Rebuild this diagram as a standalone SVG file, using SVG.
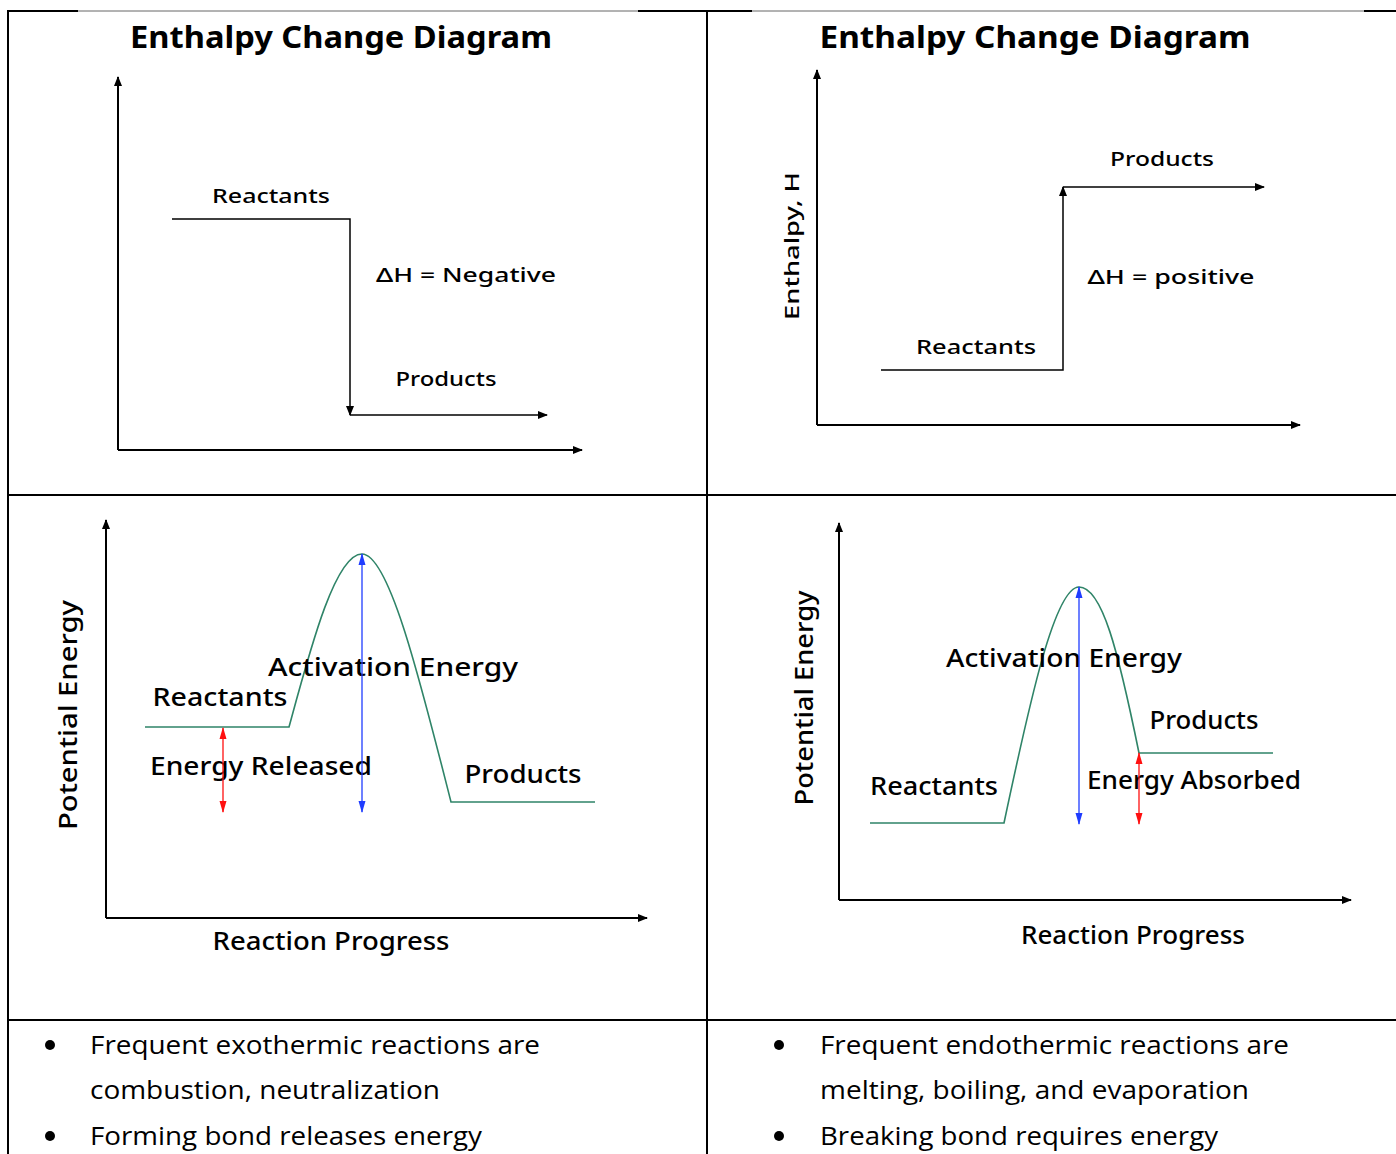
<svg xmlns="http://www.w3.org/2000/svg" width="1396" height="1154" viewBox="0 0 1396 1154">
  <style>
    .grid { stroke: #000; stroke-width: 2; fill: none; }
    .gridthin { stroke: #666; stroke-width: 1; fill: none; }
    .axis { stroke: #000; stroke-width: 2; fill: none; }
    .level { stroke: #000; stroke-width: 1.5; fill: none; }
    .curve { stroke: #2f8468; stroke-width: 1.6; fill: none; }
    .blue { stroke: #1f3cff; stroke-width: 1.3; fill: none; }
    .red { stroke: #ff1010; stroke-width: 1.3; fill: none; }
    .hand { font-family: "Noto Sans", "DejaVu Sans", sans-serif; fill: #000; }
    .title { font-size: 30px; font-weight: 700; }
    .lbl { font-size: 20px; font-weight: 500; }
    .lbl2 { font-size: 25px; font-weight: 500; }
    .note { font-family: "Open Sans", "Liberation Sans", sans-serif; font-size: 26px; fill: #000; }
  </style>
  <defs>
    <marker id="ahBlack" markerUnits="userSpaceOnUse" markerWidth="10" markerHeight="8" refX="9" refY="4" orient="auto-start-reverse">
      <path d="M0,0 L10,4 L0,8 z" fill="#000"/>
    </marker>
    <marker id="ahBlue" markerUnits="userSpaceOnUse" markerWidth="12" markerHeight="8" refX="11" refY="4" orient="auto-start-reverse">
      <path d="M0,0.5 L12,4 L0,7.5 z" fill="#1f3cff"/>
    </marker>
    <marker id="ahRed" markerUnits="userSpaceOnUse" markerWidth="12" markerHeight="8" refX="11" refY="4" orient="auto-start-reverse">
      <path d="M0,0.5 L12,4 L0,7.5 z" fill="#ff1010"/>
    </marker>
  </defs>

  <rect width="1396" height="1154" fill="#fff"/>

  <!-- table rules -->
  <g id="table">
    <line class="grid" x1="8" y1="11" x2="78" y2="11"/>
    <line class="gridthin" x1="78" y1="11" x2="638" y2="11"/>
    <line class="grid" x1="638" y1="11" x2="752" y2="11"/>
    <line class="gridthin" x1="752" y1="11" x2="1364" y2="11"/>
    <line class="grid" x1="1364" y1="11" x2="1396" y2="11"/>
    <line class="grid" x1="8" y1="10" x2="8" y2="1154"/>
    <line class="grid" x1="707" y1="10" x2="707" y2="1154"/>
    <line class="grid" x1="8" y1="495" x2="1396" y2="495"/>
    <line class="grid" x1="8" y1="1020" x2="1396" y2="1020"/>
  </g>

  <!-- exothermic enthalpy diagram -->
  <g id="exo-enthalpy">
    <text class="hand title" x="341" y="48" text-anchor="middle" textLength="422" lengthAdjust="spacingAndGlyphs">Enthalpy Change Diagram</text>
    <text class="hand lbl" x="271" y="203" text-anchor="middle" textLength="118" lengthAdjust="spacingAndGlyphs">Reactants</text>
    <text class="hand lbl" x="466" y="282" text-anchor="middle" textLength="180" lengthAdjust="spacingAndGlyphs">ΔH = Negative</text>
    <text class="hand lbl" x="446" y="386" text-anchor="middle" textLength="101" lengthAdjust="spacingAndGlyphs">Products</text>
  </g>

  <!-- endothermic enthalpy diagram -->
  <g id="endo-enthalpy">
    <text class="hand title" x="1035" y="48" text-anchor="middle" textLength="431" lengthAdjust="spacingAndGlyphs">Enthalpy Change Diagram</text>
    <text class="hand lbl" transform="translate(799,246) rotate(-90)" text-anchor="middle" textLength="148" lengthAdjust="spacingAndGlyphs">Enthalpy, H</text>
    <text class="hand lbl" x="1162" y="166" text-anchor="middle" textLength="104" lengthAdjust="spacingAndGlyphs">Products</text>
    <text class="hand lbl" x="1171" y="284" text-anchor="middle" textLength="167" lengthAdjust="spacingAndGlyphs">ΔH = positive</text>
    <text class="hand lbl" x="976" y="354" text-anchor="middle" textLength="120" lengthAdjust="spacingAndGlyphs">Reactants</text>
  </g>

  <!-- exothermic energy profile -->
  <g id="exo-profile">
    <text class="hand lbl2" transform="translate(77,715) rotate(-90)" text-anchor="middle" textLength="230" lengthAdjust="spacingAndGlyphs">Potential Energy</text>
    <path class="curve" d="M145,727 L289,727 C310,650 335,554 362,554 C389,554 420,680 451,802 L595,802"/>
    <text class="hand lbl2" x="393" y="676" text-anchor="middle" textLength="250" lengthAdjust="spacingAndGlyphs">Activation Energy</text>
    <text class="hand lbl2" x="220" y="706" text-anchor="middle" textLength="135" lengthAdjust="spacingAndGlyphs">Reactants</text>
    <text class="hand lbl2" x="261" y="775" text-anchor="middle" textLength="222" lengthAdjust="spacingAndGlyphs">Energy Released</text>
    <text class="hand lbl2" x="523" y="783" text-anchor="middle" textLength="117" lengthAdjust="spacingAndGlyphs">Products</text>
    <text class="hand lbl2" x="331" y="950" text-anchor="middle" textLength="237" lengthAdjust="spacingAndGlyphs">Reaction Progress</text>
  </g>

  <!-- endothermic energy profile -->
  <g id="endo-profile">
    <text class="hand lbl2" transform="translate(813,698) rotate(-90)" text-anchor="middle" textLength="215" lengthAdjust="spacingAndGlyphs">Potential Energy</text>
    <path class="curve" d="M870,823 L1004,823 C1030,700 1055,587 1079,587 C1102,587 1118,650 1139,753 L1273,753"/>
    <text class="hand lbl2" x="1064" y="667" text-anchor="middle" textLength="236" lengthAdjust="spacingAndGlyphs">Activation Energy</text>
    <text class="hand lbl2" x="1204" y="729" text-anchor="middle" textLength="109" lengthAdjust="spacingAndGlyphs">Products</text>
    <text class="hand lbl2" x="934" y="795" text-anchor="middle" textLength="128" lengthAdjust="spacingAndGlyphs">Reactants</text>
    <text class="hand lbl2" x="1194" y="789" text-anchor="middle" textLength="214" lengthAdjust="spacingAndGlyphs">Energy Absorbed</text>
    <text class="hand lbl2" x="1133" y="944" text-anchor="middle" textLength="224" lengthAdjust="spacingAndGlyphs">Reaction Progress</text>
  </g>

  <!-- axes, level steps and energy arrows -->
  <g id="connectors">
    <line class="axis" x1="118" y1="450" x2="118" y2="77" marker-end="url(#ahBlack)"/>
    <line class="axis" x1="118" y1="450" x2="582" y2="450" marker-end="url(#ahBlack)"/>
    <polyline class="level" points="172,219 350,219 350,415" marker-end="url(#ahBlack)"/>
    <line class="level" x1="350" y1="415" x2="547" y2="415" marker-end="url(#ahBlack)"/>

    <line class="axis" x1="817" y1="425" x2="817" y2="70" marker-end="url(#ahBlack)"/>
    <line class="axis" x1="817" y1="425" x2="1300" y2="425" marker-end="url(#ahBlack)"/>
    <polyline class="level" points="881,370 1063,370 1063,187" marker-end="url(#ahBlack)"/>
    <line class="level" x1="1063" y1="187" x2="1264" y2="187" marker-end="url(#ahBlack)"/>

    <line class="axis" x1="106" y1="918" x2="106" y2="520" marker-end="url(#ahBlack)"/>
    <line class="axis" x1="106" y1="918" x2="647" y2="918" marker-end="url(#ahBlack)"/>
    <line class="blue" x1="362" y1="554" x2="362" y2="812" marker-start="url(#ahBlue)" marker-end="url(#ahBlue)"/>
    <line class="red" x1="223" y1="728" x2="223" y2="812" marker-start="url(#ahRed)" marker-end="url(#ahRed)"/>

    <line class="axis" x1="839" y1="900" x2="839" y2="523" marker-end="url(#ahBlack)"/>
    <line class="axis" x1="839" y1="900" x2="1351" y2="900" marker-end="url(#ahBlack)"/>
    <line class="blue" x1="1079" y1="587" x2="1079" y2="824" marker-start="url(#ahBlue)" marker-end="url(#ahBlue)"/>
    <line class="red" x1="1139" y1="753" x2="1139" y2="824" marker-start="url(#ahRed)" marker-end="url(#ahRed)"/>
  </g>

  <!-- notes under the diagrams -->
  <g id="exo-notes">
    <circle cx="50" cy="1045" r="5"/>
    <circle cx="50" cy="1136" r="5"/>
    <text class="note" x="90" y="1054" textLength="450" lengthAdjust="spacingAndGlyphs">Frequent exothermic reactions are</text>
    <text class="note" x="90" y="1099" textLength="350" lengthAdjust="spacingAndGlyphs">combustion, neutralization</text>
    <text class="note" x="90" y="1145" textLength="392" lengthAdjust="spacingAndGlyphs">Forming bond releases energy</text>
  </g>
  <g id="endo-notes">
    <circle cx="779" cy="1045" r="5"/>
    <circle cx="779" cy="1136" r="5"/>
    <text class="note" x="820" y="1054" textLength="469" lengthAdjust="spacingAndGlyphs">Frequent endothermic reactions are</text>
    <text class="note" x="820" y="1099" textLength="429" lengthAdjust="spacingAndGlyphs">melting, boiling, and evaporation</text>
    <text class="note" x="820" y="1145" textLength="398" lengthAdjust="spacingAndGlyphs">Breaking bond requires energy</text>
  </g>
</svg>
